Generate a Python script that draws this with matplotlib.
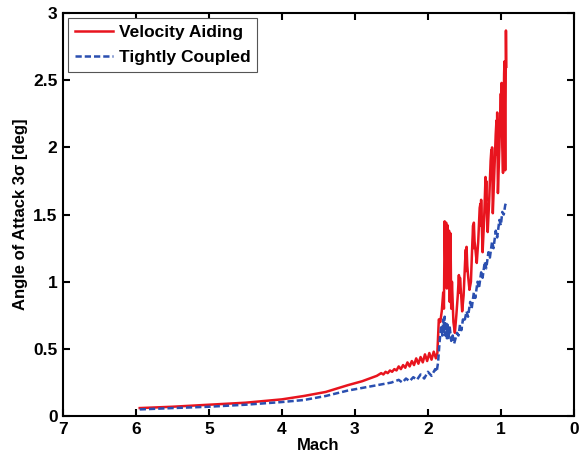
import matplotlib
matplotlib.use("Agg")
import matplotlib.pyplot as plt

plt.rcParams['font.family'] = ['Liberation Sans', 'DejaVu Sans']
plt.rcParams['font.weight'] = 'bold'

# Velocity Aiding
mach_va = [5.95, 5.5, 5.0, 4.5, 4.0, 3.7, 3.4, 3.1, 2.9, 2.7,
           2.64, 2.61, 2.58, 2.55, 2.52, 2.49, 2.46, 2.43, 2.40, 2.37,
           2.34, 2.31, 2.28, 2.25, 2.22, 2.19, 2.16, 2.13, 2.10, 2.07,
           2.04, 2.01, 1.98, 1.95, 1.92, 1.89, 1.87,
           1.85, 1.83, 1.81, 1.79, 1.78, 1.77, 1.76, 1.75, 1.74, 1.73,
           1.72, 1.71, 1.70, 1.69, 1.68, 1.67, 1.65, 1.63, 1.61, 1.59,
           1.575, 1.565, 1.56, 1.55, 1.53, 1.51, 1.49, 1.48, 1.475, 1.47,
           1.46, 1.45, 1.43, 1.41, 1.39, 1.38, 1.375, 1.37, 1.36, 1.35,
           1.33, 1.31, 1.29, 1.28, 1.275, 1.27, 1.26, 1.25, 1.23, 1.21,
           1.205, 1.20, 1.195, 1.18, 1.16, 1.14, 1.13, 1.125, 1.12, 1.11,
           1.09, 1.07, 1.06, 1.055, 1.05, 1.04, 1.02, 1.00, 0.995, 0.99,
           0.98, 0.97, 0.96, 0.955, 0.95, 0.945, 0.94, 0.935, 0.93, 0.925]
aoa_va = [0.06, 0.07, 0.085, 0.10, 0.125, 0.15, 0.18, 0.23, 0.26, 0.30,
          0.32, 0.31, 0.33, 0.32, 0.34, 0.33, 0.35, 0.34, 0.37, 0.35,
          0.38, 0.36, 0.40, 0.37, 0.41, 0.38, 0.43, 0.39, 0.44, 0.40,
          0.46, 0.41, 0.47, 0.42, 0.48, 0.43, 0.47,
          0.72, 0.70, 0.78, 0.92, 0.80, 1.45, 1.10, 1.44, 0.95, 1.42,
          1.05, 1.38, 0.85, 1.36, 0.80, 1.00, 0.70, 0.62, 0.75, 0.90,
          1.05, 0.92, 1.03, 0.95, 0.78, 0.90, 1.15, 1.24, 1.08, 1.26,
          1.12, 1.05, 0.94, 1.00, 1.30, 1.42, 1.25, 1.44, 1.30, 1.25,
          1.14, 1.30, 1.55, 1.58, 1.42, 1.61, 1.40, 1.22, 1.45, 1.78,
          1.60, 1.75, 1.55, 1.37, 1.60, 1.90, 1.98, 1.80, 2.00, 1.51,
          1.80, 2.10, 2.20, 1.95, 2.26, 1.66, 2.00, 2.40, 2.25, 2.48,
          2.00, 1.81, 2.30, 2.55, 2.64, 2.20, 1.83, 2.30, 2.87, 2.60]

# Tightly Coupled
mach_tc = [5.95, 5.5, 5.0, 4.5, 4.0, 3.7, 3.4, 3.1, 2.9, 2.7,
           2.5, 2.4, 2.35, 2.3, 2.25, 2.2, 2.15, 2.1, 2.05, 2.0,
           1.95, 1.9, 1.88, 1.86, 1.84, 1.82, 1.80, 1.79, 1.78, 1.77,
           1.76, 1.75, 1.74, 1.73, 1.72, 1.70, 1.68, 1.66, 1.64, 1.62,
           1.60, 1.58, 1.56, 1.54, 1.52, 1.50, 1.47, 1.45, 1.42, 1.40,
           1.37, 1.35, 1.32, 1.30, 1.27, 1.25, 1.22, 1.20, 1.17, 1.15,
           1.12, 1.10, 1.07, 1.05, 1.02, 1.00, 0.98, 0.96, 0.94, 0.92]
aoa_tc = [0.05, 0.06, 0.07, 0.085, 0.105, 0.12, 0.15, 0.19, 0.21, 0.23,
          0.25, 0.27, 0.25, 0.28, 0.26, 0.29, 0.27, 0.31, 0.28, 0.33,
          0.30, 0.35, 0.33, 0.40, 0.55, 0.66, 0.60, 0.72, 0.62, 0.74,
          0.60, 0.70, 0.58, 0.68, 0.57, 0.66, 0.56, 0.60, 0.54, 0.58,
          0.62, 0.60, 0.68, 0.64, 0.72, 0.70, 0.78, 0.74, 0.85, 0.80,
          0.92, 0.88, 1.00, 0.95, 1.07, 1.03, 1.15, 1.10, 1.22, 1.18,
          1.30, 1.25, 1.38, 1.33, 1.46, 1.42, 1.52, 1.50, 1.57, 1.60]

fig = plt.figure(figsize=(5.79, 4.66), dpi=100)
ax = fig.add_axes([0.109, 0.107, 0.882, 0.865])

ax.plot(mach_va, aoa_va, color='#e8141e', lw=1.8, label='Velocity Aiding')
ax.plot(mach_tc, aoa_tc, color='#2a4fb0', lw=1.8, ls='--', dashes=(2.5, 1.2),
        label='Tightly Coupled')

ax.set_xlim(7, 0)
ax.set_ylim(0, 3)
ax.set_xticks(range(7, -1, -1))
ax.set_yticks([0, 0.5, 1, 1.5, 2, 2.5, 3])
ax.set_yticklabels(['0', '0.5', '1', '1.5', '2', '2.5', '3'])
ax.tick_params(direction='in', top=True, right=True, labelsize=12.5, width=1.5,
               length=5, pad=4)
for s in ax.spines.values():
    s.set_linewidth(1.5)

ax.set_xlabel('Mach', fontsize=12, fontweight='bold', labelpad=1)
ax.set_ylabel('Angle of Attack 3σ [deg]', fontsize=12, fontweight='bold', labelpad=4)

leg = ax.legend(loc='upper left', fontsize=12.5, fancybox=False, framealpha=1,
                edgecolor='#555555', handlelength=2.2, borderaxespad=0.3,
                handletextpad=0.3, borderpad=0.4, labelspacing=0.55)
leg.get_frame().set_linewidth(0.8)

fig.savefig('out.png', dpi=100)
